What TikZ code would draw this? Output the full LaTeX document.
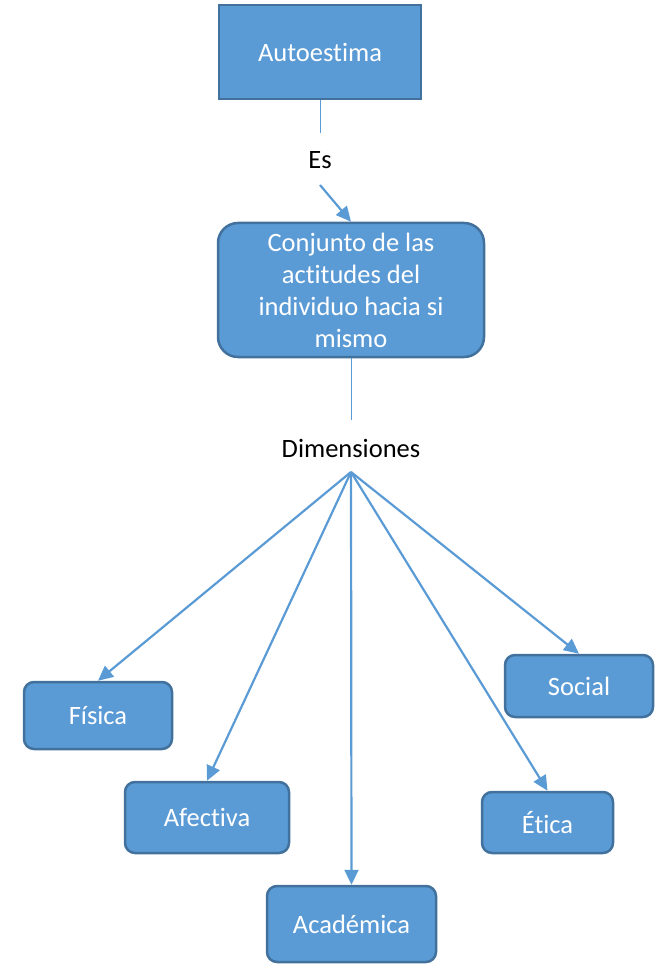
\documentclass[tikz,border=0pt]{standalone}
\usepackage{fontspec}
\setmainfont{Carlito}[RawFeature={-liga;-clig;-dlig}]
\usetikzlibrary{arrows.meta}
\definecolor{boxfill}{HTML}{5B9BD5}
\definecolor{boxedge}{HTML}{41719C}
\begin{document}
\begin{tikzpicture}[x=1pt,y=-1pt,
  box/.style={draw=boxedge,fill=boxfill,line width=2.5pt,text=white,
    inner sep=0pt,font=\fontsize{26.5}{32}\selectfont},
  rbox/.style={box,rounded corners=10pt},
  lbl/.style={inner sep=0pt,font=\fontsize{26.5}{32}\selectfont},
  thin/.style={draw=boxfill,line width=1pt},
  arr/.style={draw=boxfill,line width=2.2pt,-{Triangle[length=15pt,width=14pt]}}]
\useasboundingbox (0,0) rectangle (654,973);
\node[box,minimum width=202pt,minimum height=94pt] (auto) at (320,52) {Autoestima};
\node[lbl] (es) at (320,160) {Es};
\coordinate (autoend) at (320,133);
\coordinate (esstart) at (320,185);
\node[box,rounded corners=20pt,minimum width=266pt,minimum height=134pt,
  align=center] (conj) at (351,290)
  {Conjunto de las\\actitudes del\\individuo hacia si\\mismo};
\node[lbl] (dim) at (351,448) {Dimensiones};
\coordinate (conjend) at (351,420);
\coordinate (hub) at (351,472);
\node[rbox,minimum width=148pt,minimum height=67pt] (fis) at (98,715.5) {Física};
\node[rbox,minimum width=164pt,minimum height=71pt] (afe) at (207,817.5) {Afectiva};
\node[rbox,minimum width=169pt,minimum height=76pt] (aca) at (351.5,924) {Académica};
\node[rbox,minimum width=148pt,minimum height=62pt] (soc) at (579,686) {Social};
\node[rbox,minimum width=131pt,minimum height=61pt] (eti) at (547.5,822.5) {Ética};
\draw[thin] (auto.south) -- (autoend);
\draw[arr] (esstart) -- (conj.north);
\draw[thin] (conj.south) -- (conjend);
\foreach \t in {fis,afe,aca,eti,soc}
  \draw[arr] (hub) -- (\t.north);
\end{tikzpicture}
\end{document}
